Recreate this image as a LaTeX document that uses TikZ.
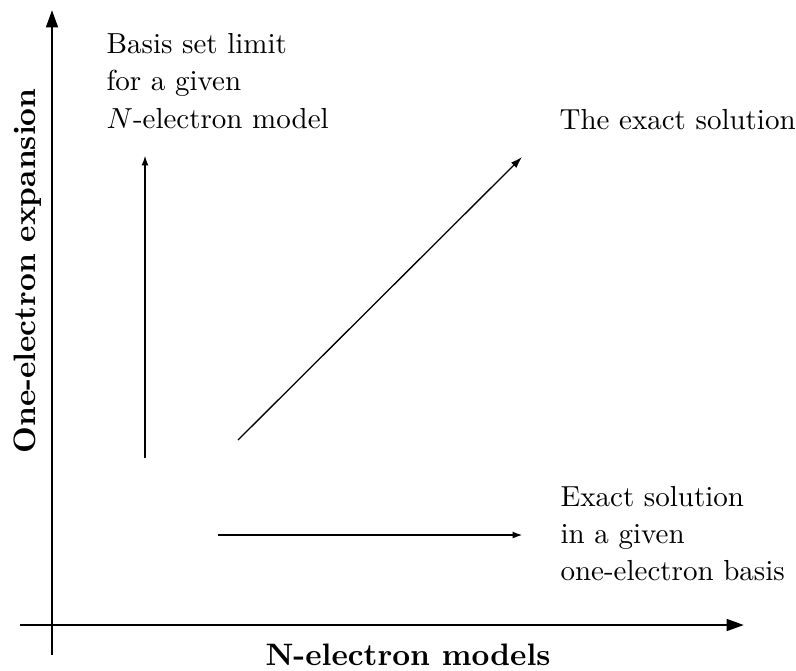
\documentclass[tikz,border=0pt]{standalone}
\usetikzlibrary{arrows.meta}
\begin{document}
\begin{tikzpicture}[x=0.345pt,y=-0.345pt,
  axis/.style={line width=0.95pt,-{Triangle[length=6pt,width=4pt]}},
  flow/.style={line width=0.8pt,-{Latex[length=3.6pt,width=2.4pt]}},
  thinflow/.style={line width=0.45pt,-{Latex[length=4pt,width=2.6pt]}},
  lbl/.style={anchor=base west,inner sep=0pt,font=\fontsize{10}{12}\selectfont},
  axlbl/.style={anchor=base,inner sep=0pt,font=\fontsize{10.7}{13}\selectfont\bfseries}]
\useasboundingbox (0,0) rectangle (796,670);
% axes
\coordinate (yb) at (52,655);
\coordinate (yt) at (52,10);
\coordinate (xl) at (20,625);
\coordinate (xr) at (744,625);
\draw[axis] (yb) -- (yt);
\draw[axis] (xl) -- (xr);
\node[axlbl] (xlab) at (408,665) {N-electron models};
\node[axlbl,rotate=90] (ylab) at (35,271) {One-electron expansion};
% inner arrows
\coordinate (v0) at (145,458);
\coordinate (v1) at (145,155);
\coordinate (d0) at (238,440);
\coordinate (d1) at (522,157);
\coordinate (h0) at (218,535);
\coordinate (h1) at (523,535);
\draw[flow] (v0) -- (v1);
\draw[thinflow] (d0) -- (d1);
\draw[flow,line width=0.9pt] (h0) -- (h1);
% labels
\node[lbl] (b1) at (106,53) {Basis set limit};
\node[lbl] (b2) at (106,90) {for a given};
\node[lbl] (b3) at (106,128) {$N$-electron model};
\node[lbl] (ex) at (559,129) {The exact solution};
\node[lbl] (e1) at (560,506) {Exact solution};
\node[lbl] (e2) at (560,543) {in a given};
\node[lbl] (e3) at (560,580) {one-electron basis};
\end{tikzpicture}
\end{document}
